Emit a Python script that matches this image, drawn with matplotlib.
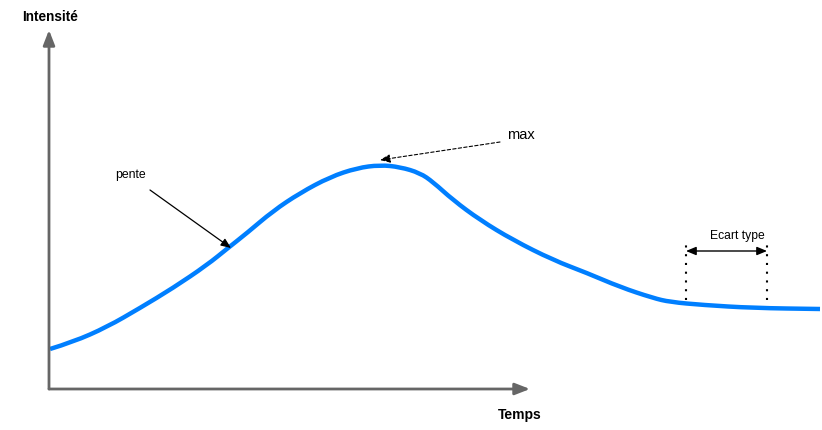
import matplotlib.pyplot as plt
from matplotlib.path import Path
from matplotlib.patches import PathPatch

# curve (arbitrary units, origin at the axes corner)
temps = [1, 24, 58, 91, 124, 158, 179, 198, 224, 251, 281, 308, 331, 351, 371,
         384, 404, 431, 464, 504, 538, 571, 604, 621, 654, 704, 771]
intensite = [40, 47, 62, 81, 101, 124, 141, 156, 178, 196, 212, 221, 224, 222, 216,
             207, 189, 169, 149, 129, 116, 102, 91, 87, 84, 81, 80]

plt.rcParams['font.family'] = ['Liberation Sans', 'DejaVu Sans']
fig = plt.figure(figsize=(8.22, 4.30), dpi=100)
ax = fig.add_axes([0, 0, 1, 1])
ax.set_xlim(-49, 773)
ax.set_ylim(-41, 389)
ax.axis('off')

gris = '#666666'
# axes with arrows
ax.annotate('', xy=(0, 359), xytext=(0, 0),
            arrowprops=dict(arrowstyle='-|>,head_length=0.9,head_width=0.35', color=gris, lw=2, shrinkA=0, shrinkB=0))
ax.annotate('', xy=(481, 0), xytext=(0, 0),
            arrowprops=dict(arrowstyle='-|>,head_length=0.9,head_width=0.35', color=gris, lw=2, shrinkA=0, shrinkB=0))
ax.text(-27, 372, 'Intensité', fontsize=9.8, fontweight='bold', va='center', ha='left')
ax.text(471, -26, 'Temps', fontsize=10, fontweight='bold', va='center', ha='center')

# smooth curve: read points used as quadratic bezier controls
pts = list(zip(temps, intensite))
verts = [pts[0]]
codes = [Path.MOVETO]
for i in range(1, len(pts) - 1):
    mid = ((pts[i][0] + pts[i + 1][0]) / 2, (pts[i][1] + pts[i + 1][1]) / 2)
    verts += [pts[i], mid]
    codes += [Path.CURVE3, Path.CURVE3]
verts.append(pts[-1])
codes.append(Path.LINETO)
ax.add_patch(PathPatch(Path(verts, codes), facecolor='none', edgecolor='#007FFF', lw=3.2, capstyle='butt'))

# pente
ax.text(66, 214, 'pente', fontsize=8.8, va='center', ha='left')
ax.annotate('', xy=(182, 141), xytext=(101, 199),
            arrowprops=dict(arrowstyle='-|>,head_length=0.6,head_width=0.25', color='black', lw=0.9, shrinkA=0, shrinkB=0))

# max
ax.text(458, 254, 'max', fontsize=10.5, va='center', ha='left')
ax.annotate('', xy=(331, 229), xytext=(451, 247),
            arrowprops=dict(arrowstyle='-|>,head_length=0.6,head_width=0.25', color='black', lw=0.8,
                            linestyle=(0, (3, 2)), shrinkA=0, shrinkB=0))

# ecart type
ax.text(688, 153, 'Ecart type', fontsize=8.7, va='center', ha='center')
ax.annotate('', xy=(718, 138), xytext=(637, 138),
            arrowprops=dict(arrowstyle='<|-|>,head_length=0.6,head_width=0.25', color='black', lw=1, shrinkA=0, shrinkB=0))
for xv in [637, 718]:
    ax.plot([xv, xv], [89, 148], color='black', lw=1.5, linestyle=(0, (1, 3.2)))

fig.savefig('out.png', dpi=100)
